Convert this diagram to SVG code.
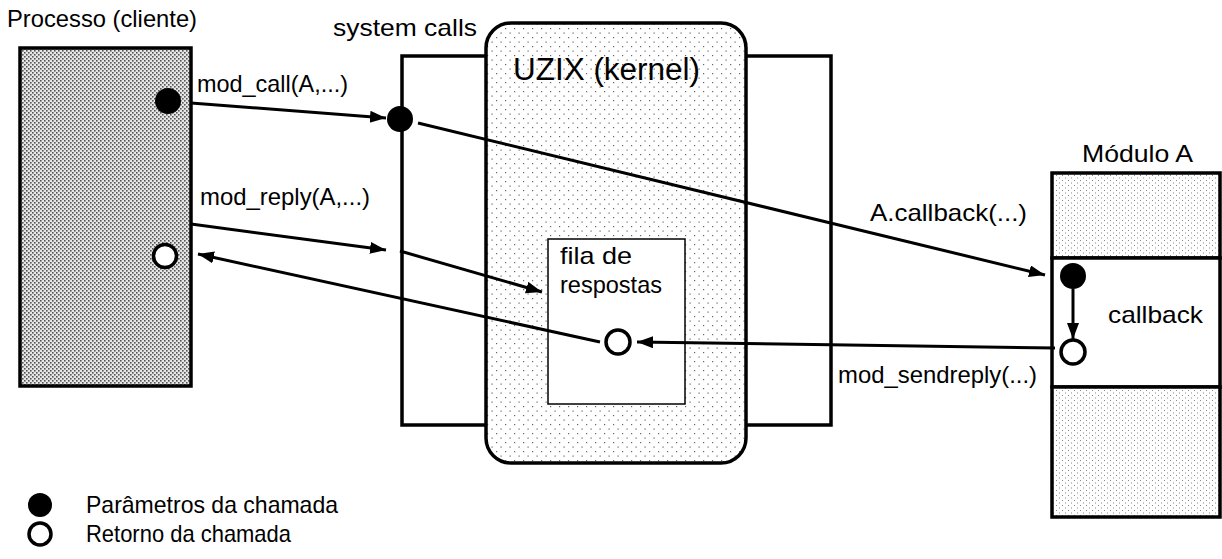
<svg xmlns="http://www.w3.org/2000/svg" width="1222" height="559" viewBox="0 0 1222 559">
<defs>
<pattern id="pDense" width="4" height="4" patternUnits="userSpaceOnUse">
<rect width="4" height="4" fill="#e6e6e6"/>
<rect x="0" y="0" width="1.6" height="1.6" fill="#555"/>
<rect x="2" y="2" width="1.6" height="1.6" fill="#555"/>
</pattern>
<pattern id="pSparse" width="9" height="9" patternUnits="userSpaceOnUse">
<rect width="9" height="9" fill="#ffffff"/>
<rect x="1" y="1" width="1.2" height="1.2" fill="#666"/>
<rect x="5.5" y="5.5" width="1.2" height="1.2" fill="#666"/>
</pattern>
<pattern id="pMed" width="6" height="5" patternUnits="userSpaceOnUse">
<rect width="6" height="5" fill="#ffffff"/>
<rect x="0" y="0" width="1" height="1" fill="#888"/>
<rect x="3" y="2.5" width="1" height="1" fill="#888"/>
</pattern>
<marker id="arr" markerUnits="userSpaceOnUse" markerWidth="18" markerHeight="14" refX="16" refY="6" orient="auto">
<path d="M0,0 L16,6 L0,12 z" fill="#000"/>
</marker>
</defs>
<style>
text{font-family:"Liberation Sans",Arial,sans-serif;fill:#000;}
.lbl{font-size:24px;}
.box{stroke:#000;stroke-width:3.5;}
.conn{stroke:#000;stroke-width:3;fill:none;marker-end:url(#arr);}
.dot{fill:#000;}
.ring{fill:#fff;stroke:#000;stroke-width:3.5;}
</style>

<g id="processo">
<rect class="box" x="20" y="48" width="171" height="338" fill="url(#pDense)"/>
<text class="lbl" x="7" y="27" textLength="190" lengthAdjust="spacingAndGlyphs">Processo (cliente)</text>
<circle class="dot" cx="168" cy="101" r="13"/>
<circle class="ring" cx="165" cy="256" r="11.5"/>
</g>

<g id="system-calls">
<rect class="box" x="402" y="56" width="429" height="369" fill="#fff"/>
<text class="lbl" x="333" y="36" textLength="144" lengthAdjust="spacingAndGlyphs">system calls</text>
<circle class="dot" cx="400" cy="119" r="13"/>
</g>

<g id="kernel">
<rect class="box" x="486" y="23" width="260" height="440" rx="25" ry="25" fill="url(#pSparse)"/>
<text x="513" y="80" font-size="31" textLength="187" lengthAdjust="spacingAndGlyphs">UZIX (kernel)</text>
</g>

<g id="fila">
<rect x="548" y="239" width="137" height="165" fill="#fff" stroke="#000" stroke-width="1.5"/>
<text class="lbl" x="560" y="264" textLength="72" lengthAdjust="spacingAndGlyphs">fila de</text>
<text class="lbl" x="560" y="293" textLength="102" lengthAdjust="spacingAndGlyphs">respostas</text>
<circle class="ring" cx="618" cy="342" r="12"/>
</g>

<g id="modulo-a">
<rect class="box" x="1052" y="173" width="168" height="85" fill="url(#pMed)"/>
<rect class="box" x="1052" y="258" width="168" height="129" fill="#fff"/>
<rect class="box" x="1052" y="387" width="168" height="130" fill="url(#pMed)"/>
<text class="lbl" x="1082" y="162" textLength="111" lengthAdjust="spacingAndGlyphs">Módulo A</text>
<text class="lbl" x="1108" y="323" textLength="95" lengthAdjust="spacingAndGlyphs">callback</text>
<circle class="dot" cx="1073" cy="276" r="13"/>
<circle class="ring" cx="1073" cy="352" r="12"/>
</g>

<g id="connectors">
<line class="conn" x1="191" y1="103" x2="386" y2="118"/>
<line class="conn" x1="418" y1="123" x2="1045" y2="275"/>
<line class="conn" x1="191" y1="224" x2="386" y2="250"/>
<line class="conn" x1="400" y1="251" x2="542" y2="292"/>
<line class="conn" x1="600" y1="342" x2="198" y2="254"/>
<line class="conn" x1="1055" y1="348" x2="637" y2="342"/>
<line class="conn" x1="1073" y1="289" x2="1073" y2="339"/>
</g>

<g id="labels">
<text class="lbl" x="197" y="92" textLength="151" lengthAdjust="spacingAndGlyphs">mod_call(A,...)</text>
<text class="lbl" x="200" y="205" textLength="170" lengthAdjust="spacingAndGlyphs">mod_reply(A,...)</text>
<text class="lbl" x="870" y="221" textLength="157" lengthAdjust="spacingAndGlyphs">A.callback(...)</text>
<text class="lbl" x="838" y="383" textLength="199" lengthAdjust="spacingAndGlyphs">mod_sendreply(...)</text>
</g>

<g id="legend">
<circle class="dot" cx="40" cy="505" r="12"/>
<text class="lbl" x="86" y="513" textLength="252" lengthAdjust="spacingAndGlyphs">Parâmetros da chamada</text>
<circle class="ring" cx="40" cy="534" r="11"/>
<text class="lbl" x="86" y="542" textLength="205" lengthAdjust="spacingAndGlyphs">Retorno da chamada</text>
</g>
</svg>
